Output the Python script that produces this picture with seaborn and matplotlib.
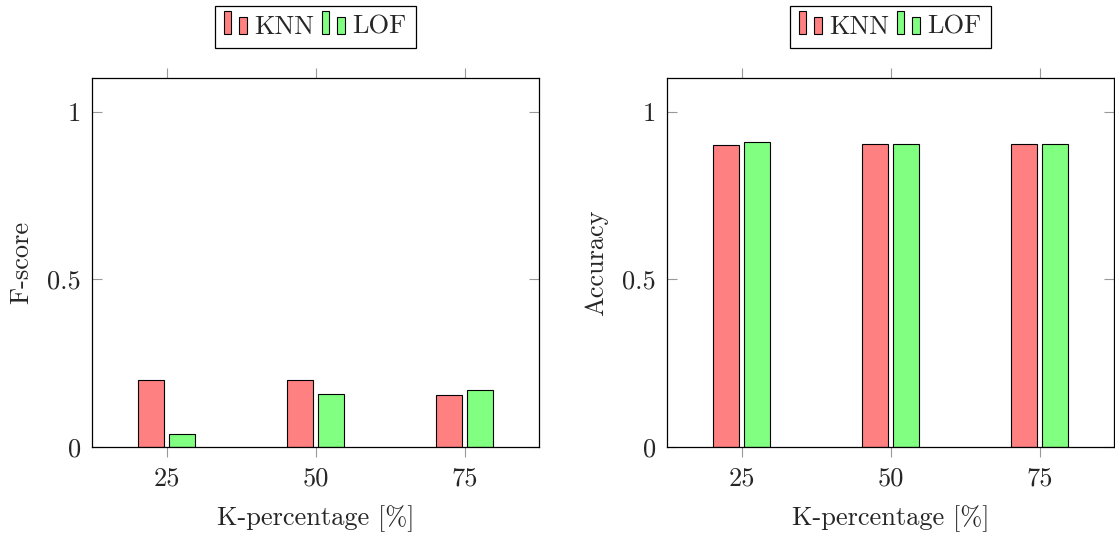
import pandas as pd
import seaborn as sns
import matplotlib.pyplot as plt
from matplotlib.patches import Rectangle
from matplotlib.legend_handler import HandlerBase

# values
k_percent = [25, 50, 75]
methods = ['KNN', 'LOF']
fscore_knn = [0.200, 0.200, 0.156]
fscore_lof = [0.040, 0.157, 0.170]
acc_knn = [0.900, 0.902, 0.902]
acc_lof = [0.910, 0.904, 0.903]

palette = {'KNN': '#FF8080', 'LOF': '#80FF80'}
FS = 19

sns.set_style('white')
plt.rcParams['font.family'] = ['cmr10', 'DejaVu Serif']
plt.rcParams['axes.formatter.use_mathtext'] = True
plt.rcParams['mathtext.fontset'] = 'cm'


class TwoBarHandler(HandlerBase):
    # pgfplots-style ybar legend image: a tall and a short bar
    def create_artists(self, legend, orig_handle, xdescent, ydescent,
                       width, height, fontsize, trans):
        fc = orig_handle.get_facecolor()
        x0, y0 = -xdescent, -ydescent
        b1 = Rectangle((x0, y0), 0.27 * fontsize, 0.85 * fontsize,
                       facecolor=fc, edgecolor='black', lw=0.8, transform=trans)
        b2 = Rectangle((x0 + 0.57 * fontsize, y0), 0.3 * fontsize, 0.65 * fontsize,
                       facecolor=fc, edgecolor='black', lw=0.8, transform=trans)
        return [b1, b2]


fig = plt.figure(figsize=(11.15, 5.33), dpi=100)
ax1 = fig.add_axes([92 / 1115, 86 / 533, 447 / 1115, 369 / 533])
ax2 = fig.add_axes([667 / 1115, 86 / 533, 447 / 1115, 369 / 533])


def make_df(knn, lof):
    return pd.DataFrame({
        'K': k_percent * 2,
        'Method': ['KNN'] * len(knn) + ['LOF'] * len(lof),
        'Value': knn + lof,
    })


panels = [(ax1, make_df(fscore_knn, fscore_lof), 'F-score'),
          (ax2, make_df(acc_knn, acc_lof), 'Accuracy')]

for ax, df, ylabel in panels:
    sns.barplot(data=df, x='K', y='Value', hue='Method', hue_order=methods,
                palette=palette, native_scale=True, width=0.424, gap=0.17,
                edgecolor='black', linewidth=0.8, saturation=1, errorbar=None,
                legend=False, ax=ax)
    ax.set_xlim(12.5, 87.5)
    ax.set_ylim(0, 1.1)
    ax.set_xticks(k_percent)
    ax.set_xticklabels([str(k) for k in k_percent])
    ax.set_yticks([0, 0.5, 1])
    ax.set_yticklabels(['0', '0.5', '1'])
    ax.set_xlabel('K-percentage [%]', fontsize=FS, labelpad=11)
    ax.set_ylabel(ylabel, fontsize=FS, labelpad=10)
    ax.tick_params(axis='x', direction='out', length=7, color='#999999',
                   top=True, bottom=True, labelsize=FS, pad=7)
    ax.tick_params(axis='y', direction='in', length=7, color='#999999',
                   left=True, right=True, labelsize=FS, pad=8)
    for s in ax.spines.values():
        s.set_color('black')
        s.set_linewidth(0.9)

    handles = [Rectangle((0, 0), 1, 1, facecolor=palette[m]) for m in methods]
    leg = ax.legend(handles, methods, ncol=2, loc='lower center',
                    bbox_to_anchor=(0.5, 1.081), borderaxespad=0, fontsize=FS,
                    frameon=True, fancybox=False, edgecolor='black', framealpha=1,
                    handler_map={Rectangle: TwoBarHandler()},
                    handlelength=0.9, handleheight=0.7, handletextpad=0.25,
                    columnspacing=0.3, borderpad=0.35)
    leg.get_frame().set_linewidth(0.9)

fig.savefig('out.png', dpi=100)
